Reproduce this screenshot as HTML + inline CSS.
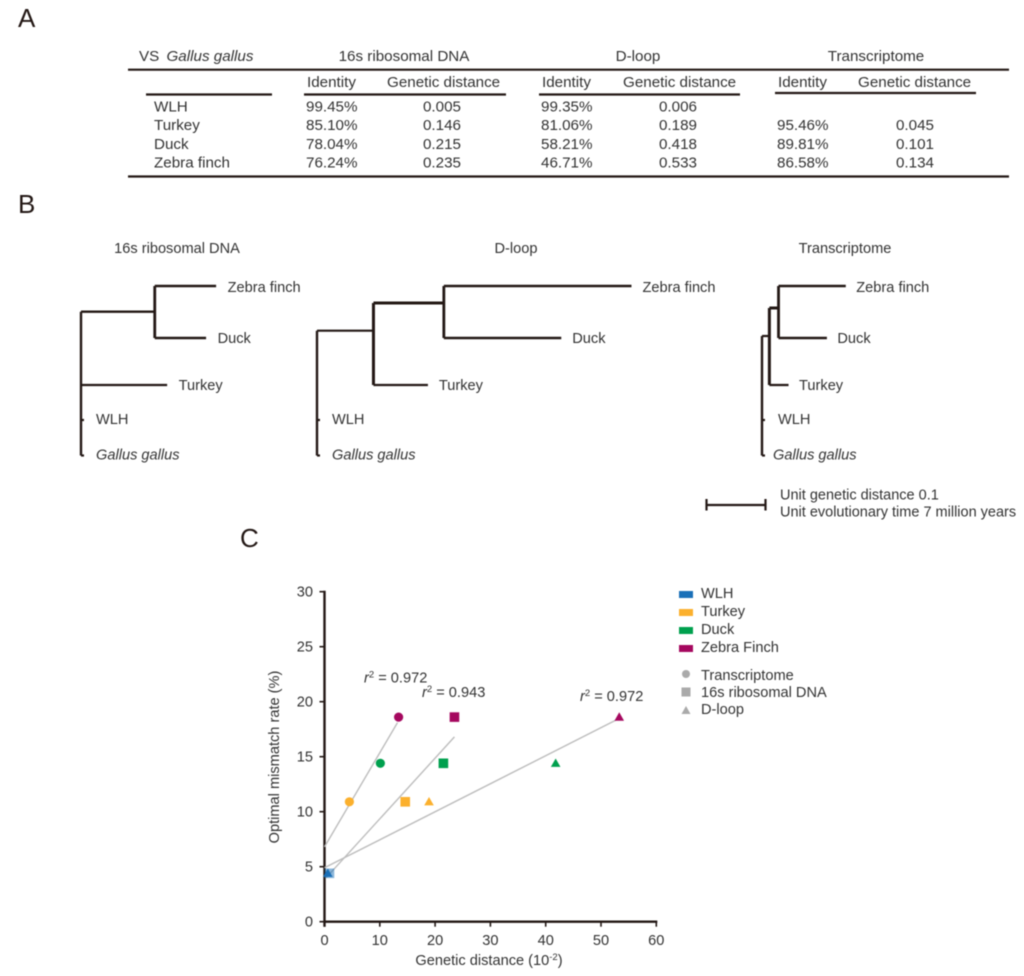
<!DOCTYPE html>
<html lang="en">
<head>
<meta charset="utf-8">
<title>Genetic distance figure</title>
<style>
html,body{margin:0;padding:0;background:#fff;}
svg{display:block;filter:blur(0.4px);}
text{font-family:"Liberation Sans",sans-serif;font-size:15.2px;fill:#333;}
.it{font-style:italic;}
.m{text-anchor:middle;}
.t{font-size:14.6px;}
.l{font-size:14.6px;}
.u{font-size:14.5px;}
.p{font-size:26px;fill:#231815;}
.rule{stroke:#231815;stroke-width:2.2;fill:none;}
</style>
</head>
<body>
<svg id="figure" xmlns="http://www.w3.org/2000/svg" width="1024" height="976" viewBox="0 0 1024 976">
<rect width="1024" height="976" fill="#fff"/>
<text class="p" x="18" y="27">A</text>
<text class="p" x="18" y="213">B</text>
<text class="p" x="240" y="547">C</text>

<g>
<text x="139" y="61">VS <tspan class="it" dx="3">Gallus gallus</tspan></text>
<text class="m" x="404" y="61">16s ribosomal DNA</text>
<text class="m" x="638" y="61">D-loop</text>
<text class="m" x="876" y="61">Transcriptome</text>
<line class="rule" x1="128" x2="1009" y1="69.7" y2="69.7"/>
<line class="rule" x1="128" x2="1009" y1="176.5" y2="176.5"/>
<line class="rule" x1="146" x2="272" y1="94.5" y2="94.5"/>
<line class="rule" x1="304" x2="506" y1="94.5" y2="94.5"/>
<line class="rule" x1="539" x2="740" y1="94.5" y2="94.5"/>
<line class="rule" x1="775" x2="976" y1="93" y2="93"/>
<text x="307" y="87">Identity</text>
<text x="387" y="87">Genetic distance</text>
<text x="542" y="87">Identity</text>
<text x="623" y="87">Genetic distance</text>
<text x="778" y="87">Identity</text>
<text x="858" y="87">Genetic distance</text>

<text x="154" y="111.5">WLH</text>
<text x="154" y="130">Turkey</text>
<text x="154" y="149">Duck</text>
<text x="154" y="167.5">Zebra finch</text>

<text x="306" y="111.5">99.45%</text>
<text x="306" y="130">85.10%</text>
<text x="306" y="149">78.04%</text>
<text x="306" y="167.5">76.24%</text>
<text class="m" x="442" y="111.5">0.005</text>
<text class="m" x="442" y="130">0.146</text>
<text class="m" x="442" y="149">0.215</text>
<text class="m" x="442" y="167.5">0.235</text>

<text x="541" y="111.5">99.35%</text>
<text x="541" y="130">81.06%</text>
<text x="541" y="149">58.21%</text>
<text x="541" y="167.5">46.71%</text>
<text class="m" x="678" y="111.5">0.006</text>
<text class="m" x="678" y="130">0.189</text>
<text class="m" x="678" y="149">0.418</text>
<text class="m" x="678" y="167.5">0.533</text>

<text x="777" y="130">95.46%</text>
<text x="777" y="149">89.81%</text>
<text x="777" y="167.5">86.58%</text>
<text class="m" x="915" y="130">0.045</text>
<text class="m" x="915" y="149">0.101</text>
<text class="m" x="915" y="167.5">0.134</text>
</g>

<g id="trees">
<text class="t m" x="177" y="253">16s ribosomal DNA</text>
<text class="t m" x="516" y="253">D-loop</text>
<text class="t m" x="845" y="253">Transcriptome</text>
</g>

<g>
<path d="M706.5 499V510.5M765.5 499V510.5M706.5 505H765.5" fill="none" stroke="#231815" stroke-width="2.2"/>
<text class="u" x="780" y="499.5">Unit genetic distance 0.1</text>
<text class="u" x="780" y="516.5">Unit evolutionary time 7 million years</text>
</g>

<g id="chart">
<text class="l m" transform="translate(279 757) rotate(-90)">Optimal mismatch rate (%)</text>
<text class="l m" x="489" y="965">Genetic distance (10<tspan dy="-5" font-size="9.5">-2</tspan><tspan dy="5">)</tspan></text>
<text class="l" x="364" y="682.5"><tspan class="it">r</tspan><tspan dy="-5" font-size="9.5">2</tspan><tspan dy="5"> = 0.972</tspan></text>
<text class="l" x="422" y="697"><tspan class="it">r</tspan><tspan dy="-5" font-size="9.5">2</tspan><tspan dy="5"> = 0.943</tspan></text>
<text class="l" x="580" y="701"><tspan class="it">r</tspan><tspan dy="-5" font-size="9.5">2</tspan><tspan dy="5"> = 0.972</tspan></text>
</g>

<g>
<rect x="679" y="591" width="14" height="7" fill="#1a70b8"/>
<rect x="679" y="609" width="14" height="7" fill="#fbb02d"/>
<rect x="679" y="627" width="14" height="7" fill="#00a04e"/>
<rect x="679" y="645" width="14" height="7" fill="#a5085f"/>
<text class="l" x="701" y="598">WLH</text>
<text class="l" x="701" y="616">Turkey</text>
<text class="l" x="701" y="634">Duck</text>
<text class="l" x="701" y="652">Zebra Finch</text>
<circle cx="686" cy="674" r="4" fill="#aaa"/>
<rect x="681.5" y="687.5" width="9" height="9" fill="#aaa"/>
<path d="M686 706L690.5 714H681.5Z" fill="#aaa"/>
<text class="l" x="701" y="680">Transcriptome</text>
<text class="l" x="701" y="697">16s ribosomal DNA</text>
<text class="l" x="701" y="714">D-loop</text>
</g>
</svg>

<script>
// Scatter data
const species = ['WLH', 'Turkey', 'Duck', 'Zebra finch'];
const speciesColors = ['#1a70b8', '#fbb02d', '#00a04e', '#a5085f'];
const mismatchRate = [4.4, 10.9, 14.4, 18.6];
const transcriptomeDistance = [null, 4.5, 10.1, 13.4];
const ribosomalDistance = [0.9, 14.6, 21.5, 23.5];
const dloopDistance = [0.6, 18.9, 41.8, 53.3];
const transcriptomeFitX = [0, 13.2];
const transcriptomeFitY = [6.8, 18.1];
const ribosomalFitX = [0.3, 23.5];
const ribosomalFitY = [4, 16.8];
const dloopFitX = [0, 53];
const dloopFitY = [4.9, 18.4];
const xTicks = [0, 10, 20, 30, 40, 50, 60];
const yTicks = [0, 5, 10, 15, 20, 25, 30];

// Tree data: branch lengths in genetic distance
const tree16sTips = [0.229, 0.212, 0.146, 0.005, 0];
const tree16sNodes = [0, 0.125];
const treeDloopTips = [0.533, 0.414, 0.188, 0.005, 0];
const treeDloopNodes = [0.0957, 0.215];
const treeTransTips = [0.142, 0.110, 0.045, 0.003, 0];
const treeTransNodes = [0.0125, 0.028];

const NS = 'http://www.w3.org/2000/svg';
const chart = document.getElementById('chart');
const trees = document.getElementById('trees');

function mk(parent, tag, attrs) {
  const e = document.createElementNS(NS, tag);
  for (const k in attrs) e.setAttribute(k, attrs[k]);
  parent.appendChild(e);
  return e;
}

const xScale = v => 324.5 + v * 5.53;
const yScale = v => 921.7 - v * 11;

// Axes
const xAxis = mk(chart, 'line', {x1: xScale(0) - 1, x2: xScale(60) + 1, y1: yScale(0), y2: yScale(0), stroke: '#231815', 'stroke-width': 2.4});


const yAxis = mk(chart, 'line', {x1: xScale(0), x2: xScale(0), y1: yScale(30) - 1, y2: yScale(0) + 5, stroke: '#231815', 'stroke-width': 2.4});



xTicks.forEach(v => {
  const tick = mk(chart, 'line', {x1: xScale(v), x2: xScale(v), y1: yScale(0), y2: yScale(0) + 5, stroke: '#231815', 'stroke-width': 1.6});
  
  
  const label = mk(chart, 'text', {x: xScale(v), y: 945, 'class': 'l m'});
  label.textContent = v;
  
  
});
yTicks.forEach(v => {
  const tick = mk(chart, 'line', {x1: xScale(0) - 5, x2: xScale(0), y1: yScale(v), y2: yScale(v), stroke: '#231815', 'stroke-width': 1.6});
  
  
  const label = mk(chart, 'text', {x: 313, y: yScale(v) + 5, 'class': 'l', 'text-anchor': 'end'});
  label.textContent = v;
  
  
});

// Trend lines
[[transcriptomeFitX, transcriptomeFitY], [ribosomalFitX, ribosomalFitY], [dloopFitX, dloopFitY]].forEach(pair => {
  const fit = mk(chart, 'line', {x1: xScale(pair[0][0]), x2: xScale(pair[0][1]), y1: yScale(pair[1][0]), y2: yScale(pair[1][1]), stroke: '#bdbdbd', 'stroke-width': 1.4});
  
  
});

// Markers
ribosomalDistance.forEach((d, i) => {
  const s = mk(chart, 'rect', {x: xScale(d) - 4.8, y: yScale(mismatchRate[i]) - 4.8, width: 9.6, height: 9.6, fill: speciesColors[i], opacity: i === 0 ? 0.5 : 1});
  
  
});
transcriptomeDistance.forEach((d, i) => {
  if (d === null) return;
  const c = mk(chart, 'circle', {cx: xScale(d), cy: yScale(mismatchRate[i]), r: 4.6, fill: speciesColors[i]});
  
  
});
dloopDistance.forEach((d, i) => {
  const px = xScale(d), py = yScale(mismatchRate[i]);
  const t = mk(chart, 'path', {d: `M${px} ${py - 4.8}L${px + 4.8} ${py + 3.6}H${px - 4.8}Z`, fill: speciesColors[i]});
  
  
});

// Trees
const treeRows = [286, 338, 385, 420, 455.5];
const treeLabels = ['Zebra finch', 'Duck', 'Turkey', 'WLH', 'Gallus gallus'];
const labelBaselines = [292, 343, 390, 424, 459.5];

function drawTree(rootX, tips, nodes, rootTop, innerTop, labelGaps, labelX) {
  const sx = d => rootX + d * 590;
  const parts = [];
  parts.push({d: `M${sx(0)} ${rootTop}V${treeRows[4]}`, w: 2.4});
  if (nodes[0] > 0) {
    parts.push({d: `M${sx(0)} ${rootTop}H${sx(nodes[0])}`, w: 2.2});
    parts.push({d: `M${sx(nodes[0])} ${innerTop}V${treeRows[2]}`, w: 3});
    parts.push({d: `M${sx(nodes[0])} ${innerTop}H${sx(nodes[1])}`, w: 3});
  } else {
    parts.push({d: `M${sx(0)} ${innerTop}H${sx(nodes[1])}`, w: 2.4});
  }
  parts.push({d: `M${sx(nodes[1])} ${treeRows[0]}V${treeRows[1]}`, w: 2.8});
  parts.push({d: `M${sx(nodes[1])} ${treeRows[0]}H${sx(tips[0])}`, w: 2.4});
  parts.push({d: `M${sx(nodes[1])} ${treeRows[1]}H${sx(tips[1])}`, w: 2.4});
  parts.push({d: `M${sx(nodes[0])} ${treeRows[2]}H${sx(tips[2])}`, w: 2.2});
  parts.push({d: `M${sx(0)} ${treeRows[3]}H${sx(0) + 3}`, w: 2.2});
  parts.push({d: `M${sx(0)} ${treeRows[4]}H${sx(0) + 3}`, w: 2.2});
  parts.forEach(p => {
    const b = mk(trees, 'path', {d: p.d, fill: 'none', stroke: '#231815', 'stroke-width': p.w});
    
    
  });
  treeLabels.forEach((name, i) => {
    const x = i < 3 ? sx(tips[i]) + labelGaps : labelX[i - 3];
    const tx = mk(trees, 'text', {x: x, y: labelBaselines[i], 'class': i === 4 ? 't it' : 't'});
    tx.textContent = name;
    
    
  });
}

drawTree(81, tree16sTips, tree16sNodes, 311.7, 311.7, 11.5, [96, 96]);
drawTree(317, treeDloopTips, treeDloopNodes, 330.7, 303, 11, [332, 332]);
drawTree(762, treeTransTips, treeTransNodes, 336, 308, 10.5, [778, 773]);
</script>
</body>
</html>
